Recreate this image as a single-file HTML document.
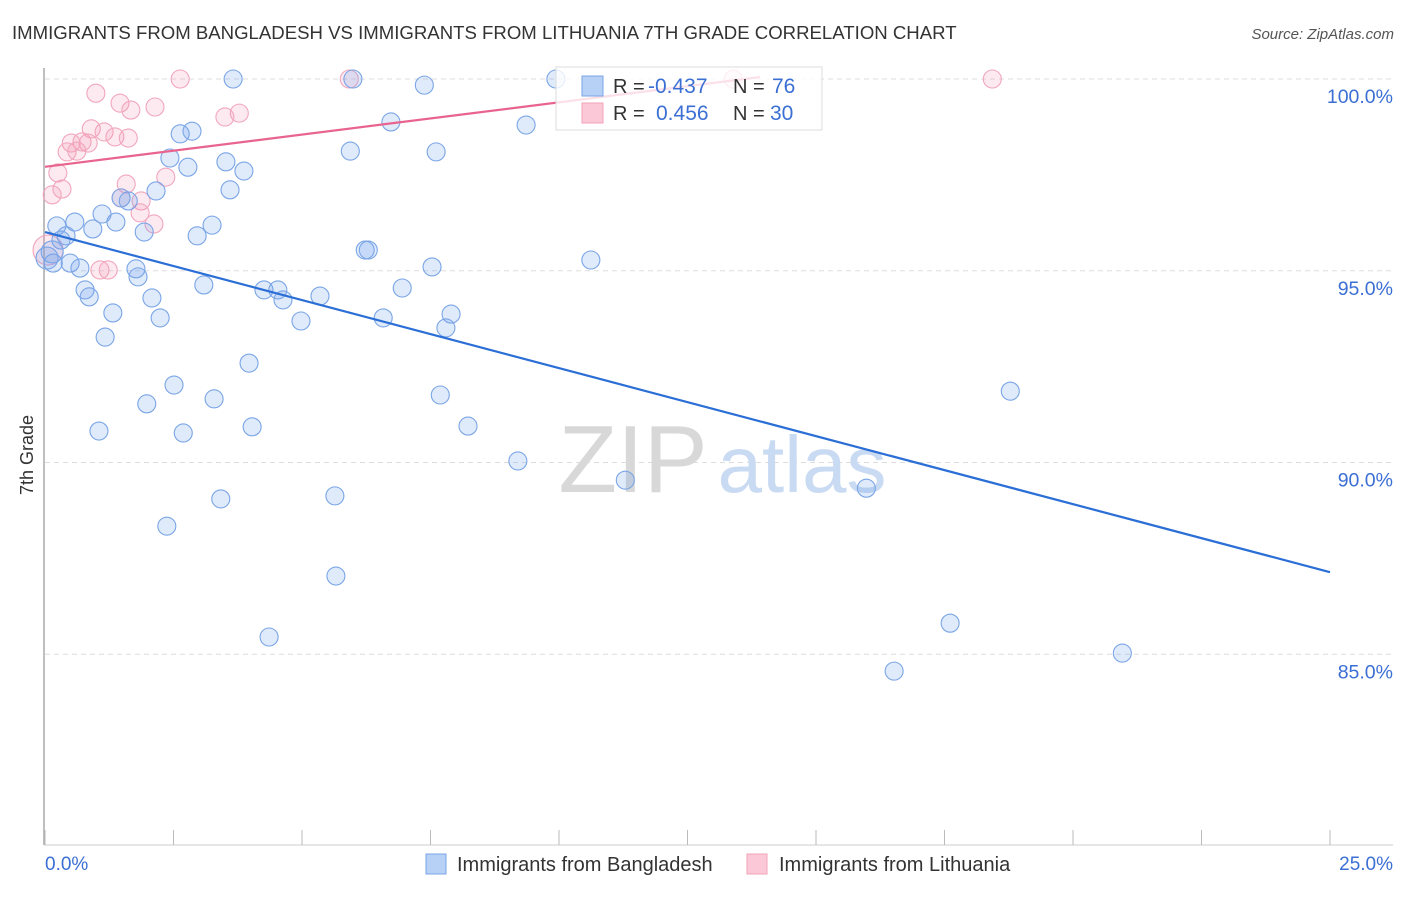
<!DOCTYPE html>
<html><head><meta charset="utf-8"><style>
body{margin:0;background:#fff;font-family:"Liberation Sans",sans-serif;}
svg text{font-family:"Liberation Sans",sans-serif;}
</style></head><body>
<svg id="chart" width="1406" height="892" viewBox="0 0 1406 892" xmlns="http://www.w3.org/2000/svg">
<text x="12" y="39" font-size="18.6" fill="#333">IMMIGRANTS FROM BANGLADESH VS IMMIGRANTS FROM LITHUANIA 7TH GRADE CORRELATION CHART</text>
<text x="1394" y="39" font-size="15" fill="#555" text-anchor="end" font-style="italic">Source: ZipAtlas.com</text>
<text transform="translate(33,455) rotate(-90)" font-size="18" fill="#333" text-anchor="middle">7th Grade</text>
<g id="grid"></g>
<g>
<text x="633" y="492" font-size="96" fill="#d8d8d8" text-anchor="middle" font-family="Liberation Serif,serif">ZIP</text>
<text x="802" y="492" font-size="80" fill="#c9daf3" text-anchor="middle">atlas</text>
</g>
<line x1="44" y1="68" x2="44" y2="845" stroke="#aaa" stroke-width="1.5"/>
<line x1="44" y1="845" x2="1393" y2="845" stroke="#ccc" stroke-width="1"/>
<g id="xticks"></g>
<g id="points"></g>
<g id="trends"></g>
<g id="ylabels"></g>
<text x="45" y="870" font-size="19" fill="#3b6fd4">0.0%</text>
<text x="1393" y="870" font-size="19" fill="#3b6fd4" text-anchor="end">25.0%</text>
<g>
<rect x="556" y="67" width="266" height="63" fill="rgba(255,255,255,0.8)" stroke="#ddd"/>
<rect x="582" y="76" width="21" height="20" fill="#b7d0f5" stroke="#7aa5e6"/>
<rect x="582" y="103" width="21" height="20" fill="#fac8d6" stroke="#f2a3bb"/>
<text x="613" y="93" font-size="20" fill="#333">R = </text>
<text x="648" y="93" font-size="21" fill="#3b6fd4">-0.437</text>
<text x="733" y="93" font-size="20" fill="#333">N = </text>
<text x="772" y="93" font-size="21" fill="#3b6fd4">76</text>
<text x="613" y="120" font-size="20" fill="#333">R = </text>
<text x="656" y="120" font-size="21" fill="#3b6fd4">0.456</text>
<text x="733" y="120" font-size="20" fill="#333">N = </text>
<text x="770" y="120" font-size="21" fill="#3b6fd4">30</text>
</g>
<g>
<rect x="426" y="854" width="20" height="20" fill="#b7d0f5" stroke="#7aa5e6"/>
<text x="457" y="871" font-size="20" fill="#333">Immigrants from Bangladesh</text>
<rect x="747" y="854" width="20" height="20" fill="#fac8d6" stroke="#f2a3bb"/>
<text x="779" y="871" font-size="20" fill="#333">Immigrants from Lithuania</text>
</g>
</svg>
<script>
const yTicks=[100,95,90,85];
const yTickLabels=["100.0%","95.0%","90.0%","85.0%"];
const blueX=[3.66,5.99,7.38,9.94,2.63,2.86,6.73,9.36,5.94,7.61,2.43,2.78,3.52,3.87,3.60,2.16,1.48,1.62,1.11,0.23,0.58,1.38,0.93,1.93,0.41,0.31,2.96,3.25,6.23,6.29,10.62,0.16,0.49,0.68,1.77,1.81,7.53,3.09,4.26,4.53,4.63,5.35,6.95,0.78,0.86,2.08,1.32,2.24,4.98,6.58,7.90,7.80,1.17,3.97,2.51,1.98,3.29,7.69,18.78,1.05,2.69,4.03,8.23,9.20,11.29,15.98,3.42,5.64,2.37,5.66,4.36,17.61,16.52,20.96,0.14,0.04];
const blueY=[100,100,99.84,100,98.57,98.64,98.88,98.80,98.12,98.10,97.94,97.70,97.84,97.60,97.11,97.08,96.90,96.82,96.48,96.17,96.27,96.27,96.09,96.01,95.91,95.80,95.91,96.19,95.54,95.54,95.28,95.20,95.20,95.07,95.05,94.84,95.10,94.63,94.50,94.50,94.24,94.34,94.55,94.50,94.32,94.29,93.90,93.77,93.69,93.77,93.87,93.51,93.27,92.59,92.02,91.53,91.66,91.76,91.86,90.82,90.77,90.93,90.95,90.04,89.54,89.33,89.05,89.13,88.34,87.04,85.45,85.81,84.56,85.03,95.49,95.33];
const pinkX=[2.63,5.92,13.39,18.43,0.99,1.46,2.14,1.67,3.78,3.50,0.90,1.15,0.72,0.51,0.84,1.36,1.62,0.43,0.62,0.25,0.33,0.14,1.58,2.35,1.48,1.87,1.85,2.12,1.07,1.23,0.06];
const pinkY=[100,100,100,100,99.63,99.37,99.27,99.19,99.11,99.01,98.70,98.62,98.36,98.33,98.33,98.49,98.46,98.10,98.12,97.55,97.13,96.98,97.26,97.44,96.90,96.82,96.51,96.22,95.02,95.02,95.54];
const blueTrendX=[0,25];
const blueTrendY=[96.01,87.14];
const pinkTrendX=[0,13.91];
const pinkTrendY=[97.71,100.05];

const NS="http://www.w3.org/2000/svg";
function xs(v){return 45+v/25*1285;}
function ys(v){return 79+(100-v)*38.35;}
function mk(t,a,p){const e=document.createElementNS(NS,t);for(const k in a)e.setAttribute(k,a[k]);p.appendChild(e);return e;}
const grid=document.getElementById('grid'),yl=document.getElementById('ylabels');
yTicks.forEach((t,i)=>{
 const l=mk('line',{x1:45,x2:1393,y1:ys(t),y2:ys(t),stroke:'#ddd','stroke-dasharray':'5,4'},grid);
 
 
 const tx=mk('text',{x:1393,y:ys(t)+24,'font-size':19.5,fill:'#3b6fd4','text-anchor':'end'},yl);
 tx.textContent=yTickLabels[i];
 
 
});
const xt=document.getElementById('xticks');
for(let i=0;i<=10;i++){
 const x=45+i*128.5;
 const l=mk('line',{x1:x,x2:x,y1:830,y2:845,stroke:'#bbb'},xt);
 
 
}
const pts=document.getElementById('points');
pinkX.forEach((v,i)=>{
 const big=i===pinkX.length-1;
 const c=mk('circle',{cx:xs(v),cy:ys(pinkY[i]),r:big?15:9,fill:'rgba(245,150,180,0.2)',stroke:'#f1a6bd','stroke-width':1.1},pts);
 
 
});
blueX.forEach((v,i)=>{
 const big=i>=blueX.length-2;
 const c=mk('circle',{cx:xs(v),cy:ys(blueY[i]),r:big?11:9,fill:'rgba(110,160,235,0.22)',stroke:'#7aa5e6','stroke-width':1.1},pts);
 
 
});
const tr=document.getElementById('trends');
const bl=mk('line',{x1:xs(blueTrendX[0]),y1:ys(blueTrendY[0]),x2:xs(blueTrendX[1]),y2:ys(blueTrendY[1]),stroke:'#2b6fd6','stroke-width':2.2},tr);


const pl=mk('line',{x1:xs(pinkTrendX[0]),y1:ys(pinkTrendY[0]),x2:xs(pinkTrendX[1]),y2:ys(pinkTrendY[1]),stroke:'#e8648e','stroke-width':2.2},tr);


</script>
</body></html>
